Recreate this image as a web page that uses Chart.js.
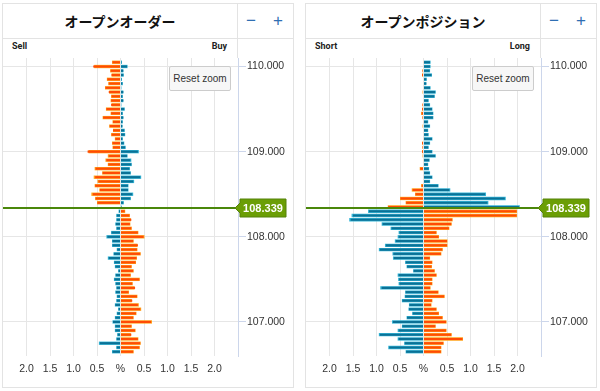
<!DOCTYPE html>
<html>
<head>
<meta charset="utf-8">
<script src="https://cdn.jsdelivr.net/npm/chart.js@4.4.1/dist/chart.umd.min.js"></script>
<style>
body { margin: 0; width: 600px; height: 391px; background: #fff; position: relative; overflow: hidden; font-family: "Liberation Sans", Arial, sans-serif; }
.panel { position: absolute; top: 3px; width: 292px; height: 385px; border: 1px solid #e3e3e3; box-sizing: border-box; }
.hline { position: absolute; left: 0; right: 0; top: 34px; height: 1px; background: #e3e3e3; }
.vline { position: absolute; left: 234px; top: 0; width: 1px; height: 54px; background: #e3e3e3; }
.title { position: absolute; left: 0; top: 0; width: 234px; height: 34px; line-height: 34px; text-align: center; font-family: "Noto Sans CJK JP", sans-serif; font-weight: bold; font-size: 14px; color: #111; }
.zm { position: absolute; top: 7px; font-size: 17px; color: #2f6fb3; line-height: 20px; }
.side { position: absolute; top: 37px; font-size: 9px; font-weight: bold; color: #222; font-family: Roboto, "Liberation Sans", sans-serif; }
canvas { position: absolute; top: 50px; }
.reset { position: absolute; top: 66px; width: 62px; height: 25px; box-sizing: border-box; background: #f7f7f7; border: 1px solid #cccccc; border-radius: 2px; font-size: 10px; color: #333; line-height: 23px; text-align: center; font-family: "Liberation Sans", Arial, sans-serif; }
</style>
</head>
<body>
<div class="panel" style="left:2px">
  <div class="hline"></div><div class="vline"></div>
  <div class="title">オープンオーダー</div>
  <div class="zm" style="left:243px">−</div><div class="zm" style="left:270px">+</div>
  <div class="side" style="left:9px">Sell</div><div class="side" style="right:66px">Buy</div>
</div>
<div class="panel" style="left:305px">
  <div class="hline"></div><div class="vline"></div>
  <div class="title">オープンポジション</div>
  <div class="zm" style="left:243px">−</div><div class="zm" style="left:270px">+</div>
  <div class="side" style="left:9px">Short</div><div class="side" style="right:66px">Long</div>
</div>
<canvas id="orders" width="290" height="328" style="left:3px"></canvas>
<canvas id="positions" width="290" height="328" style="left:306px"></canvas>
<div class="reset" style="left:169px">Reset zoom</div>
<div class="reset" style="left:472px">Reset zoom</div>
<script>
// price levels, top to bottom
const prices = [110.05, 110.00, 109.95, 109.90, 109.85, 109.80, 109.75, 109.70, 109.65, 109.60,
  109.55, 109.50, 109.45, 109.40, 109.35, 109.30, 109.25, 109.20, 109.15, 109.10,
  109.05, 109.00, 108.95, 108.90, 108.85, 108.80, 108.75, 108.70, 108.65, 108.60,
  108.55, 108.50, 108.45, 108.40, 108.35, 108.30, 108.25, 108.20, 108.15, 108.10,
  108.05, 108.00, 107.95, 107.90, 107.85, 107.80, 107.75, 107.70, 107.65, 107.60,
  107.55, 107.50, 107.45, 107.40, 107.35, 107.30, 107.25, 107.20, 107.15, 107.10,
  107.05, 107.00, 106.95, 106.90, 106.85, 106.80, 106.75, 106.70, 106.65];
const currentPrice = 108.339;
const priceTicks = [107, 108, 109, 110];
const pctTicks = [-2, -1.5, -1, -0.5, 0, 0.5, 1, 1.5, 2];

// open orders (% , negative = left side)
const orderOrangeNow = [-0.17, -0.58, -0.21, -0.19, -0.28, -0.25, -0.32, -0.25, -0.19, -0.20,
  -0.20, -0.30, -0.20, -0.37, -0.16, -0.23, -0.16, -0.19, -0.11, -0.17,
  -0.16, -0.70, -0.25, -0.30, -0.26, -0.53, -0.38, -0.54, -0.47, -0.54,
  -0.44, -0.59, -0.53, -0.49, 0, 0.09, 0.19, 0.23, 0.20, 0.23,
  0.37, 0.49, 0.27, 0.37, 0.35, 0.42, 0.34, 0.32, 0.23, 0.27,
  0.21, 0.40, 0.25, 0.31, 0.17, 0.35, 0.25, 0.37, 0.42, 0.33,
  0.27, 0.65, 0.23, 0.31, 0.23, 0.37, 0.42, 0.40, 0.27];
const orderOrangePrev = [-0.18, -0.56, -0.22, -0.19, -0.29, -0.26, -0.33, -0.24, -0.20, -0.21,
  -0.19, -0.31, -0.21, -0.38, -0.17, -0.24, -0.16, -0.20, -0.12, -0.18,
  -0.17, -0.68, -0.27, -0.32, -0.27, -0.55, -0.39, -0.57, -0.49, -0.55,
  -0.45, -0.62, -0.54, -0.50, -0.01, 0.10, 0.20, 0.22, 0.21, 0.24,
  0.38, 0.51, 0.28, 0.36, 0.36, 0.43, 0.35, 0.33, 0.24, 0.28,
  0.22, 0.41, 0.26, 0.30, 0.18, 0.36, 0.24, 0.39, 0.44, 0.34,
  0.28, 0.67, 0.24, 0.32, 0.22, 0.38, 0.43, 0.41, 0.28];
const orderBlueNow = [0.02, 0.14, 0.06, 0.06, 0.02, 0.04, 0.01, 0.06, 0.04, 0.06,
  0.01, 0.08, 0.04, 0.06, 0.04, 0.04, 0.08, 0.09, 0.04, 0.07,
  0.10, 0.37, 0.14, 0.21, 0.23, 0.19, 0.21, 0.42, 0.27, 0.16,
  0.16, 0.25, 0.21, 0.06, 0.02, -0.03, -0.08, -0.08, -0.10, -0.08,
  -0.19, -0.28, -0.17, -0.17, -0.07, -0.14, -0.25, -0.13, -0.11, -0.04,
  -0.10, -0.13, -0.10, -0.08, -0.10, -0.07, -0.08, -0.11, -0.04, -0.07,
  -0.11, -0.16, -0.11, -0.11, -0.06, -0.08, -0.44, -0.08, -0.17];
const orderBluePrev = [0.03, 0.15, 0.06, 0.07, 0.03, 0.05, 0.02, 0.06, 0.05, 0.06,
  0.02, 0.09, 0.05, 0.06, 0.05, 0.04, 0.09, 0.10, 0.05, 0.08,
  0.11, 0.39, 0.15, 0.23, 0.24, 0.20, 0.22, 0.44, 0.29, 0.17,
  0.17, 0.27, 0.22, 0.07, 0.02, -0.04, -0.09, -0.09, -0.11, -0.09,
  -0.20, -0.30, -0.18, -0.18, -0.08, -0.15, -0.27, -0.14, -0.12, -0.05,
  -0.11, -0.14, -0.11, -0.09, -0.11, -0.08, -0.09, -0.12, -0.05, -0.08,
  -0.12, -0.17, -0.12, -0.12, -0.07, -0.09, -0.46, -0.09, -0.18];

// open positions
const posOrangeNow = [-0.01, 0, -0.02, -0.03, 0, 0, 0, -0.01, 0, 0,
  -0.02, -0.03, -0.04, -0.02, -0.01, -0.01, 0, 0, -0.01, -0.03,
  -0.02, -0.03, -0.01, -0.01, -0.01, -0.07, 0, -0.01, 0, -0.04,
  -0.23, -0.17, -0.49, -0.37, -0.75, 1.98, 1.98, 0.61, 0.59, 0.54,
  0.27, 0.32, 0.50, 0.50, 0.40, 0.37, 0.13, 0.18, 0.17, 0.23,
  0.27, 0.18, 0.18, 0.14, 0.31, 0.44, 0.18, 0.16, 0.27, 0.32,
  0.40, 0.48, 0.25, 0.48, 0.59, 0.83, 0.42, 0.37, 0.37];
const posOrangePrev = [-0.01, -0.01, -0.02, -0.03, 0, 0, -0.01, -0.02, 0, 0,
  -0.02, -0.03, -0.05, -0.02, -0.01, -0.02, 0, -0.01, -0.01, -0.03,
  -0.02, -0.03, -0.02, -0.01, -0.01, -0.08, -0.01, -0.01, 0, -0.05,
  -0.25, -0.18, -0.50, -0.38, -0.76, 1.99, 1.99, 0.62, 0.60, 0.55,
  0.28, 0.33, 0.51, 0.51, 0.41, 0.38, 0.14, 0.19, 0.18, 0.24,
  0.28, 0.19, 0.19, 0.15, 0.32, 0.45, 0.19, 0.17, 0.28, 0.33,
  0.41, 0.49, 0.26, 0.49, 0.60, 0.84, 0.43, 0.38, 0.38];
const posBlueNow = [0.14, 0.14, 0.13, 0.17, 0.06, 0.06, 0.14, 0.25, 0.23, 0.10,
  0.13, 0.18, 0.20, 0.20, 0.09, 0.13, 0.09, 0.10, 0.18, 0.13,
  0.10, 0.18, 0.25, 0.12, 0.09, 0.11, 0.13, 0.18, 0.13, 0.31,
  0.55, 1.31, 1.73, 1.36, 2.03, -1.16, -1.50, -1.55, -0.87, -0.68,
  -0.51, -0.53, -0.59, -0.80, -0.93, -0.64, -0.63, -0.38, -0.35, -0.21,
  -0.53, -0.52, -0.51, -0.89, -0.38, -0.39, -0.45, -0.30, -0.31, -0.23,
  -0.35, -0.65, -0.45, -0.53, -0.93, -0.53, -0.40, -0.73, -0.37];
const posBluePrev = [0.15, 0.15, 0.14, 0.18, 0.07, 0.06, 0.15, 0.26, 0.24, 0.11,
  0.14, 0.19, 0.21, 0.21, 0.10, 0.14, 0.10, 0.11, 0.19, 0.14,
  0.11, 0.19, 0.26, 0.13, 0.10, 0.12, 0.14, 0.19, 0.14, 0.32,
  0.57, 1.33, 1.75, 1.38, 2.05, -1.18, -1.53, -1.58, -0.89, -0.70,
  -0.53, -0.55, -0.61, -0.82, -0.95, -0.66, -0.65, -0.39, -0.36, -0.22,
  -0.55, -0.54, -0.53, -0.92, -0.39, -0.40, -0.46, -0.31, -0.32, -0.24,
  -0.36, -0.67, -0.46, -0.55, -0.95, -0.55, -0.41, -0.75, -0.38];

const tickFont = { family: '"Liberation Sans", Arial, sans-serif', size: 10.5 };

// current price line + label on the right axis
const priceLine = {
  id: 'priceLine',
  afterDatasetsDraw(chart) {
    const { ctx, chartArea, scales } = chart;
    const y = Math.round(scales.y.getPixelForValue(currentPrice));
    const bx = chartArea.right + 2, bw = 46, bh = 18;
    ctx.save();
    ctx.strokeStyle = '#4a870a';
    ctx.lineWidth = 2;
    ctx.beginPath();
    ctx.moveTo(chartArea.left, y);
    ctx.lineTo(bx - 4, y);
    ctx.stroke();
    ctx.fillStyle = '#6b9e05';
    ctx.strokeStyle = '#55820a';
    ctx.lineWidth = 1;
    ctx.beginPath();
    ctx.moveTo(bx - 5, y);
    ctx.lineTo(bx, y - 5);
    ctx.lineTo(bx, y - bh / 2);
    ctx.lineTo(bx + bw, y - bh / 2);
    ctx.lineTo(bx + bw, y + bh / 2);
    ctx.lineTo(bx, y + bh / 2);
    ctx.lineTo(bx, y + 5);
    ctx.closePath();
    ctx.fill();
    ctx.stroke();
    ctx.fillStyle = '#fff';
    ctx.font = 'bold 11px "Liberation Sans", Arial, sans-serif';
    ctx.textAlign = 'center';
    ctx.textBaseline = 'middle';
    ctx.fillText(currentPrice.toFixed(3), bx + bw / 2, y + 0.5);
    ctx.restore();
  }
};

function buildChart(id, orangePrev, orangeNow, bluePrev, blueNow) {
  const points = arr => arr.map((v, i) => ({ x: v, y: prices[i] }));
  // previous snapshot: wider light bar behind; current: narrower dark bar on top
  const back = { grouped: false, categoryPercentage: 1, barPercentage: 0.78, borderWidth: 0, order: 2, stack: 'prev' };
  const front = { grouped: false, categoryPercentage: 1, barPercentage: 0.5, borderWidth: 0, order: 1, stack: 'now' };
  new Chart(document.getElementById(id), {
    type: 'bar',
    data: {
      datasets: [
        { ...back, data: points(orangePrev), backgroundColor: '#ffa31a' },
        { ...back, data: points(bluePrev), backgroundColor: '#35b5d6' },
        { ...front, data: points(orangeNow), backgroundColor: '#ff4a05' },
        { ...front, data: points(blueNow), backgroundColor: '#0a7196' }
      ]
    },
    options: {
      indexAxis: 'y',
      responsive: false,
      animation: false,
      layout: { padding: { top: 8 } },
      plugins: { legend: { display: false }, tooltip: { enabled: false } },
      scales: {
        x: {
          type: 'linear', min: -2.5, max: 2.5, stacked: true,
          afterBuildTicks: s => { s.ticks = pctTicks.map(v => ({ value: v })); },
          afterFit: s => { s.height = 22; },
          grid: { color: '#e6e6e6', drawTicks: false },
          border: { display: false },
          ticks: {
            padding: 7, color: '#333', font: tickFont,
            callback: v => v === 0 ? '%' : Math.abs(v).toFixed(1)
          }
        },
        y: {
          type: 'linear', position: 'right', min: 106.6, max: 110.1, offset: false,
          afterBuildTicks: s => { s.ticks = priceTicks.map(v => ({ value: v })); },
          afterFit: s => { s.width = 55; },
          grid: { color: '#e6e6e6', tickColor: '#ccd6eb', tickLength: 8, offset: false },
          border: { color: '#ccd6eb' },
          ticks: { padding: 1, color: '#333', font: tickFont, callback: v => v.toFixed(3) }
        }
      }
    },
    plugins: [priceLine]
  });
}

buildChart('orders', orderOrangePrev, orderOrangeNow, orderBluePrev, orderBlueNow);
buildChart('positions', posOrangePrev, posOrangeNow, posBluePrev, posBlueNow);
</script>
</body>
</html>
